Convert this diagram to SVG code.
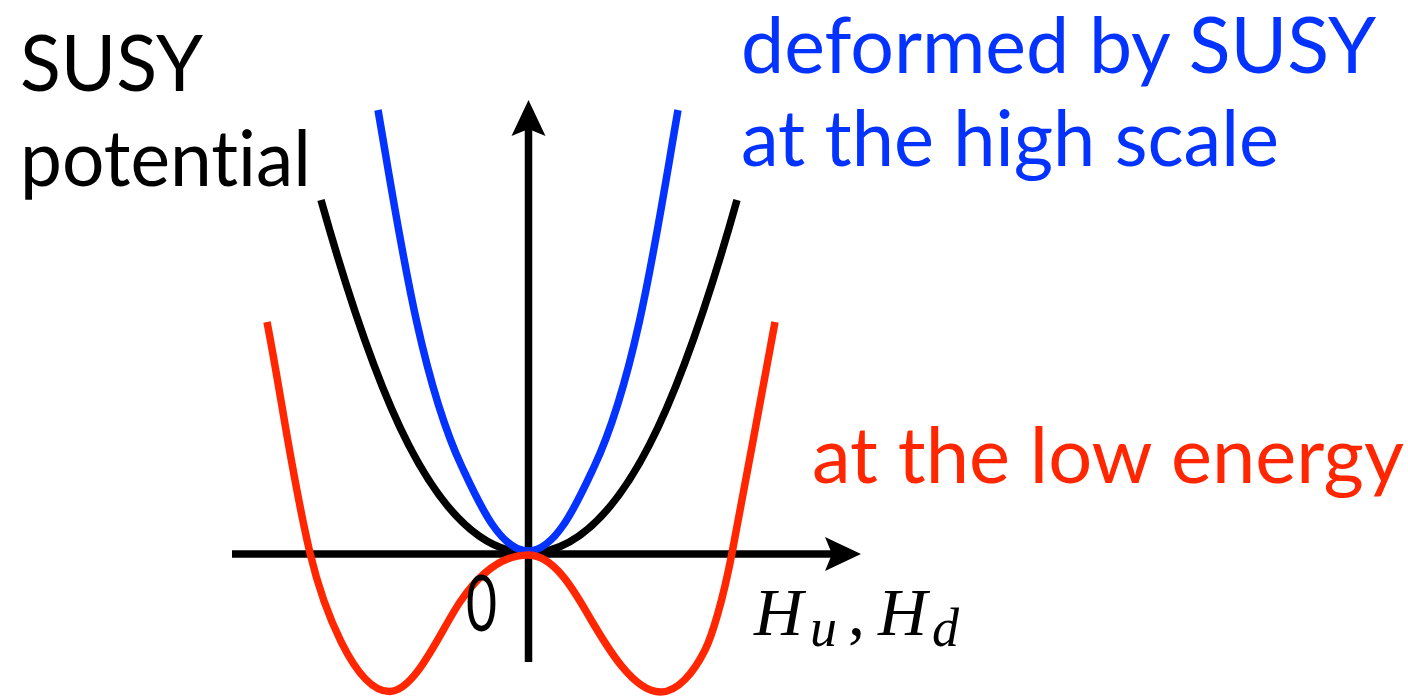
<svg xmlns="http://www.w3.org/2000/svg" width="1408" height="697" viewBox="0 0 1408 697">
<style>
.lbl{font-family:Lato,"Open Sans","Liberation Sans",sans-serif;font-size:78px;font-variant-ligatures:none;font-feature-settings:"liga" 0}
.math{font-family:"Liberation Serif","DejaVu Serif",serif;font-style:italic}
.axis{stroke:#000;stroke-width:7.5;fill:none}
.curve{fill:none;stroke-width:7.5;stroke-linecap:butt;stroke-linejoin:round}
</style>
<rect width="1408" height="697" fill="#fff"/>
<g id="axes">
<line class="axis" x1="232" y1="554" x2="836" y2="554"/>
<polygon points="861,554 825,537 832,554 825,571" fill="#000"/>
<line class="axis" x1="528.5" y1="662" x2="528.5" y2="126"/>
<polygon points="528.5,100 511.5,136 528.5,129 545.5,136" fill="#000"/>
</g>
<g id="curves">
<path id="susy" class="curve" stroke="#000" d="M321,200 C372.3,382.4 434,553 529,553 C624,553 685.7,382.4 737,200"/>
<path id="high" class="curve" stroke="#0433ff" d="M378,110 C398.5,228.2 419.5,376.5 462,467 C478.1,501.4 500,551 528,551 C556,551 577.9,501.4 594,467 C636.5,376.5 657.5,228.2 678,110"/>
<path id="low" class="curve" stroke="#ff2600" d="M267,322 C281.8,398.4 292,477 310,553 C322.7,606.5 354.5,691.5 389.5,691.5 C415.5,691.5 440.8,630 460,602 C474.1,581.4 498,555 528,555 C556,555 577.25,596.5 590,618 C605.3,643.8 632.5,692 660.5,692 C678,692 694,672 705,650 C712,636 723,600 732,553 C739.8,513.8 767.6,361.3 775,322"/>
</g>
<g id="labels">
<text class="lbl" x="20" y="91" fill="#000" textLength="183" lengthAdjust="spacingAndGlyphs">SUSY</text>
<text class="lbl" x="20" y="186" fill="#000" textLength="291" lengthAdjust="spacingAndGlyphs">potential</text>
<text class="lbl" x="741" y="73" fill="#0433ff" textLength="635" lengthAdjust="spacingAndGlyphs">deformed by SUSY</text>
<text class="lbl" x="741" y="166" fill="#0433ff" textLength="538" lengthAdjust="spacingAndGlyphs">at the high scale</text>
<text class="lbl" x="812" y="483" fill="#ff2600" textLength="592" lengthAdjust="spacingAndGlyphs">at the low energy</text>
<text class="lbl" x="466" y="631" font-size="60" fill="#000" textLength="31" lengthAdjust="spacingAndGlyphs">0</text>
<text class="math" y="635" font-size="68" fill="#000"><tspan x="754">H</tspan><tspan x="810" y="646" font-size="54">u</tspan><tspan x="848" y="635" font-style="normal">,</tspan><tspan x="878">H</tspan><tspan x="932" y="646" font-size="54">d</tspan></text>
</g>
</svg>
